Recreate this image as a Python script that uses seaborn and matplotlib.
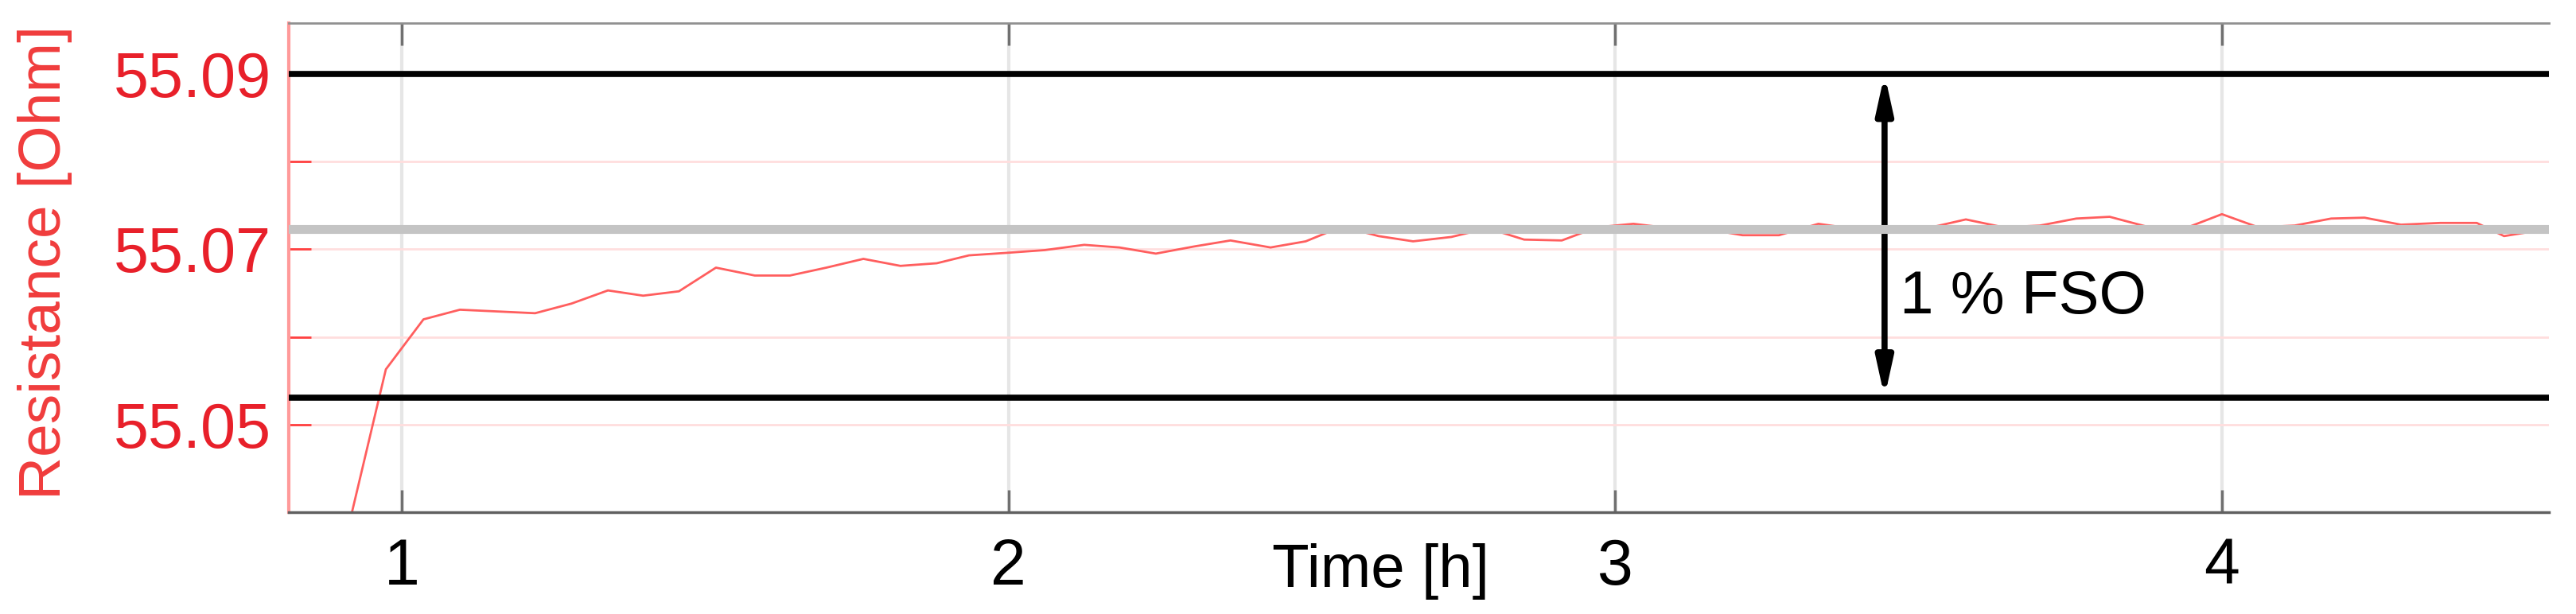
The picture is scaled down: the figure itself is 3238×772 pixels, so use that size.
"""Resistance drift over time with 1 % FSO band."""
import matplotlib
matplotlib.use("Agg")
import matplotlib.pyplot as plt
import seaborn as sns
import pandas as pd

time_h = [0.913, 0.974, 1.036, 1.096, 1.158, 1.220, 1.280, 1.340, 1.398, 1.457,
          1.518, 1.582, 1.640, 1.700, 1.761, 1.822, 1.882, 1.935, 2.000, 2.060,
          2.125, 2.183, 2.243, 2.305, 2.366, 2.432, 2.490, 2.550, 2.610, 2.667,
          2.730, 2.790, 2.850, 2.912, 2.970, 3.030, 3.090, 3.150, 3.210, 3.270,
          3.335, 3.395, 3.455, 3.515, 3.578, 3.640, 3.700, 3.760, 3.815, 3.875,
          3.940, 4.000, 4.060, 4.120, 4.180, 4.235, 4.295, 4.360, 4.420, 4.465,
          4.510, 4.539]
resistance = [55.0385, 55.0563, 55.0620, 55.0631, 55.0629, 55.0627, 55.0638, 55.0653, 55.0647, 55.0652,
              55.0679, 55.0670, 55.0670, 55.0679, 55.0689, 55.0681, 55.0684, 55.0693, 55.0696, 55.0699,
              55.0705, 55.0702, 55.0695, 55.0703, 55.0710, 55.0702, 55.0709, 55.0726, 55.0715, 55.0709,
              55.0714, 55.0724, 55.0711, 55.0710, 55.0725, 55.0729, 55.0724, 55.0723, 55.0716, 55.0716,
              55.0729, 55.0723, 55.0722, 55.0724, 55.0734, 55.0725, 55.0727, 55.0735, 55.0737, 55.0726,
              55.0724, 55.0740, 55.0725, 55.0727, 55.0735, 55.0736, 55.0728, 55.0730, 55.0730, 55.0715,
              55.0720, 55.0723]

upper_limit = 55.09
lower_limit = 55.0531
mean_level = 55.0723
arrow_time = 3.444
fso_label = "1 % FSO"
fso_pos = (3.469, 55.0627)

x_ticks = [1, 2, 3, 4]
x_tick_labels = ["1", "2", "3", "4"]
y_ticks = [55.04, 55.05, 55.06, 55.07, 55.08, 55.09]
y_tick_labels = ["", "55.05", "", "55.07", "", "55.09"]

sns.set_theme(style="white")
plt.rcParams["font.family"] = ["Liberation Sans", "DejaVu Sans"]

df = pd.DataFrame({"time": time_h, "resistance": resistance})

fig = plt.figure(figsize=(32.38, 7.72), dpi=100)
ax = fig.add_axes([363 / 3238, 128 / 772, (3204 - 363) / 3238, (644 - 29) / 772])

sns.lineplot(data=df, x="time", y="resistance", ax=ax, sort=False, estimator=None,
             color="#ff5e5e", lw=2, zorder=2)

ax.annotate("", xy=(arrow_time, upper_limit), xytext=(arrow_time, lower_limit),
            arrowprops=dict(arrowstyle="<|-|>,head_length=1.0,head_width=0.22",
                            mutation_scale=28, color="black", lw=5.5,
                            shrinkA=0, shrinkB=0), zorder=3)
ax.axhline(upper_limit, color="black", lw=5.5, zorder=4)
ax.axhline(lower_limit, color="black", lw=5.5, zorder=4)
ax.axhline(mean_level, color="#c4c4c4", lw=8, zorder=5)
ax.text(*fso_pos, fso_label, fontsize=55, color="black", ha="left", va="baseline", zorder=6)

ax.set_xlim(0.814, 4.539)
ax.set_ylim(55.04, 55.0958)
ax.set_xticks(x_ticks, x_tick_labels)
ax.set_yticks(y_ticks, y_tick_labels)

ax.xaxis.grid(True, color="#e6e6e6", lw=3)
ax.yaxis.grid(True, color="#ffdede", lw=2)
ax.set_axisbelow(True)

ax.tick_params(axis="y", direction="in", length=20, width=2, color="#ff4040",
               labelcolor="#e8202a", labelsize=57, pad=16, left=True)
ax.tick_params(axis="x", direction="in", length=20, width=2.5, color="#707070",
               labelcolor="black", labelsize=58, pad=23, bottom=True, top=True)

ax.spines["left"].set_color("#ff9a9a"); ax.spines["left"].set_linewidth(3)
ax.spines["bottom"].set_color("#606060"); ax.spines["bottom"].set_linewidth(2.5)
ax.spines["top"].set_color("#909090"); ax.spines["top"].set_linewidth(2)
ax.spines["right"].set_visible(False)

xl = ax.set_xlabel("Time [h]", fontsize=55, color="black")
xl.set_va("baseline")
ax.xaxis.set_label_coords(0.483, -0.153)
yl = ax.set_ylabel("Resistance [Ohm]", fontsize=54, color="#f03c3c")
yl.set_va("center")
ax.yaxis.set_label_coords(-0.108, 0.51)

fig.savefig("out.png", dpi=100)
plt.close(fig)
